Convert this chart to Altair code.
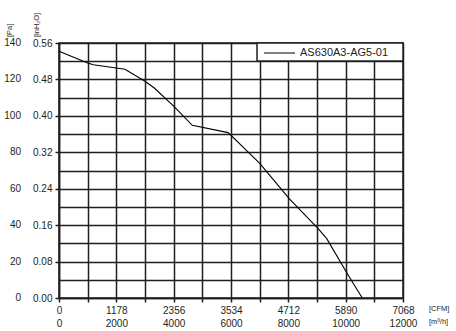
import altair as alt
import pandas as pd

# ---- data ----
flow_m3h = [0, 1000, 1200, 2300, 3000, 3325, 4000, 4650, 5900, 6780, 7010, 8030, 9040, 9340, 10090, 10580]
pressure_pa = [135.5, 129.0, 128.1, 125.6, 119.0, 115.3, 105.4, 94.8, 90.8, 77.4, 73.8, 54.6, 38.1, 32.6, 12.5, 0]
series_name = "AS630A3-AG5-01"

x_label_m3h = [0, 2000, 4000, 6000, 8000, 10000, 12000]
x_label_cfm = ["0", "1178", "2356", "3534", "4712", "5890", "7068"]
x_grid_m3h = [0, 1000, 2000, 3000, 4000, 5000, 6000, 7000, 8000, 9000, 10000, 11000, 12000]

y_label_pa = [0, 20, 40, 60, 80, 100, 120, 140]
y_label_inh2o = ["0.00", "0.08", "0.16", "0.24", "0.32", "0.40", "0.48", "0.56"]
y_grid_pa = [0, 10, 20, 30, 40, 50, 60, 70, 80, 90, 100, 110, 120, 130, 140]

FONT = "Liberation Sans"
INK = "#231f20"
W, H = 344, 255

curve = pd.DataFrame({"m3h": flow_m3h, "pa": pressure_pa})
pa_lab = pd.DataFrame({"pa": y_label_pa, "txt": [str(v) for v in y_label_pa]})
one = pd.DataFrame({"label": [series_name]})

mx = "[" + ",".join(str(v) for v in x_label_m3h) + "]"
cx = "[" + ",".join("'" + s + "'" for s in x_label_cfm) + "]"
rx = "[" + ",".join("'" + str(v) + "'" for v in x_label_m3h) + "]"
x_label_expr = (f"indexof({mx}, datum.value) < 0 ? '' : "
                f"[{cx}[indexof({mx}, datum.value)], {rx}[indexof({mx}, datum.value)]]")

my = "[" + ",".join(str(v) for v in y_label_pa) + "]"
cy = "[" + ",".join("'" + s + "'" for s in y_label_inh2o) + "]"
y_label_expr = f"indexof({my}, datum.value) < 0 ? '' : {cy}[indexof({my}, datum.value)]"

xscale = alt.Scale(domain=[0, 12000], nice=False, zero=False)
yscale = alt.Scale(domain=[0, 140], nice=False, zero=False)

x_axis = alt.Axis(
    values=x_grid_m3h, labelExpr=x_label_expr, title=None,
    grid=True, gridColor=INK, gridWidth=1.5, gridOpacity=1,
    domainColor=INK, domainWidth=1.5, tickColor=INK, tickWidth=1.5, tickSize=4,
    labelFont=FONT, labelFontSize=10, labelColor=INK, labelPadding=3,
    labelLineHeight=13, labelAngle=0, labelFlush=False, labelOverlap=False,
)
y_axis = alt.Axis(
    values=y_grid_pa, labelExpr=y_label_expr, title=None,
    grid=True, gridColor=INK, gridWidth=1.5, gridOpacity=1,
    domainColor=INK, domainWidth=1.5, tickColor=INK, tickWidth=1.5, tickSize=4,
    tickOpacity={"condition": {"test": "datum.value % 20 === 0", "value": 1}, "value": 0},
    labelFont=FONT, labelFontSize=10, labelColor=INK, labelPadding=3,
    labelFlush=False, labelOverlap=False,
)

line = alt.Chart(curve).mark_line(color="black", strokeWidth=1.1).encode(
    x=alt.X("m3h:Q", scale=xscale, axis=x_axis),
    y=alt.Y("pa:Q", scale=yscale, axis=y_axis),
)

pa_text = alt.Chart(pa_lab).mark_text(
    align="right", baseline="middle", font=FONT, fontSize=10, color=INK
).encode(
    y=alt.Y("pa:Q", scale=yscale, axis=y_axis),
    x=alt.value(-38),
    text="txt:N",
)

legend_box = alt.Chart(one).mark_rect(fill="white", stroke=INK, strokeWidth=1.5).encode(
    x=alt.value(198), x2=alt.value(W), y=alt.value(0), y2=alt.value(18)
)
legend_line = alt.Chart(one).mark_rule(color="black", strokeWidth=1).encode(
    x=alt.value(205), x2=alt.value(236), y=alt.value(10)
)
legend_text = alt.Chart(one).mark_text(
    align="left", baseline="middle", font=FONT, fontSize=11, color=INK
).encode(text="label:N", x=alt.value(241), y=alt.value(10))

unit_cfm = alt.Chart(one).mark_text(
    align="left", baseline="middle", font=FONT, fontSize=7.5, color=INK, text="[CFM]"
).encode(x=alt.value(370), y=alt.value(266))
unit_m3h = alt.Chart(one).mark_text(
    align="left", baseline="middle", font=FONT, fontSize=7.5, color=INK, text="[m³/h]"
).encode(x=alt.value(370), y=alt.value(279))

title_pa = alt.Chart(one).mark_text(
    align="left", baseline="middle", angle=270, font=FONT, fontSize=7.5, color=INK, text="[Pa]"
).encode(x=alt.value(-49), y=alt.value(-6))
title_in = alt.Chart(one).mark_text(
    align="left", baseline="middle", angle=270, font=FONT, fontSize=7.5, color=INK, text="[inH₂O]"
).encode(x=alt.value(-22), y=alt.value(-6))

chart = alt.layer(
    line, pa_text, legend_box, legend_line, legend_text,
    unit_cfm, unit_m3h, title_pa, title_in,
).properties(
    width=W, height=H,
    padding={"left": 59, "top": 43, "right": 53, "bottom": 33},
    autosize=alt.AutoSizeParams(type="none"),
    background="white",
).configure_view(stroke=INK, strokeWidth=1.5)

chart.save("out.html", embed_options={"renderer": "svg", "actions": False})
